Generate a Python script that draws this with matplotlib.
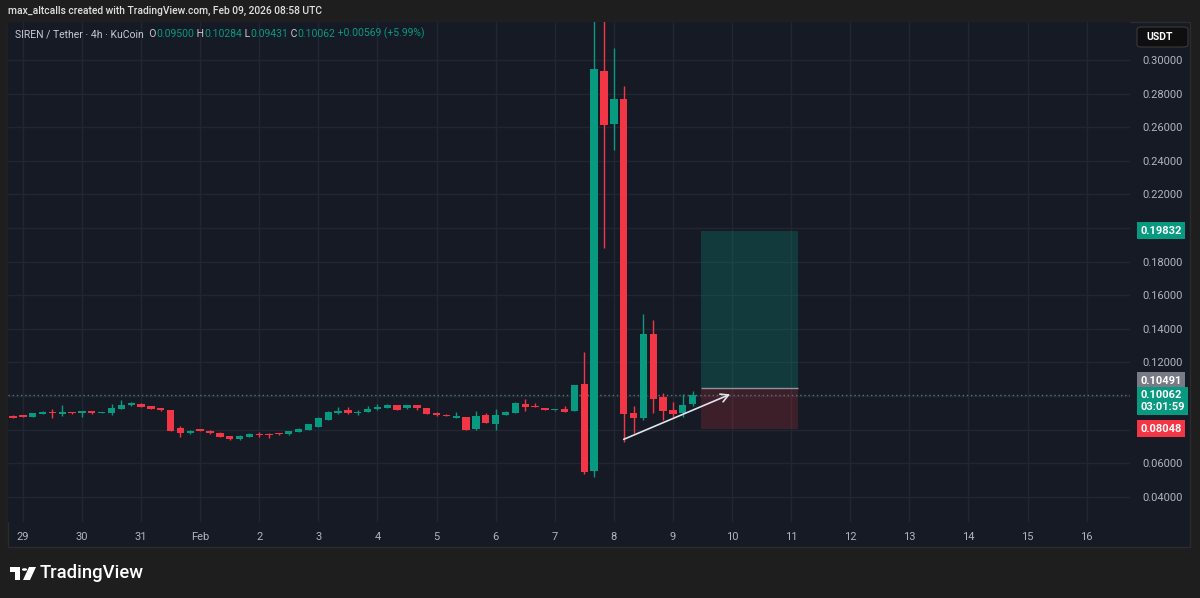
import numpy as np
import matplotlib
matplotlib.use('Agg')
import matplotlib.pyplot as plt
from matplotlib import font_manager
from matplotlib.patches import Rectangle, Polygon, Circle, FancyBboxPatch
import matplotlib.transforms as mtransforms

avail = {f.name for f in font_manager.fontManager.ttflist}
def pick(*names):
    for n in names:
        if n in avail:
            return n
    return 'DejaVu Sans'
UI = pick('Liberation Sans Narrow', 'Roboto', 'Liberation Sans')
LOGO = pick('Roboto', 'Inter', 'Lato')

# ---------------- data (SIREN/USDT 4h, Jan 28 20:00 -> Feb 9 08:00) ----------------
opens = [0.0881, 0.0886, 0.0877, 0.0893, 0.0902, 0.0893, 0.0905, 0.0897, 0.0909, 0.0898,
         0.0897, 0.0925, 0.0946, 0.0955, 0.0939, 0.0929, 0.0915, 0.0808, 0.0778, 0.0804,
         0.0794, 0.0778, 0.0762, 0.0742, 0.0758, 0.0775, 0.0776, 0.0776, 0.0772, 0.0788,
         0.0798, 0.0817, 0.0857, 0.0897, 0.0915, 0.0899, 0.0907, 0.0921, 0.0931, 0.0945,
         0.0927, 0.0945, 0.0929, 0.0897, 0.0889, 0.0872, 0.0875, 0.0802, 0.0885, 0.0832,
         0.0887, 0.0901, 0.0952, 0.0940, 0.0929, 0.0915, 0.0925, 0.0913, 0.1070, 0.0555,
         0.2935, 0.2619, 0.2770, 0.0897, 0.0867, 0.1369, 0.0993, 0.0917, 0.0901, 0.09500]
highs = [0.0884, 0.0889, 0.0901, 0.0908, 0.0923, 0.0946, 0.0907, 0.0911, 0.0911, 0.0903,
         0.0952, 0.0976, 0.0962, 0.0957, 0.0941, 0.0931, 0.0917, 0.0821, 0.0798, 0.0806,
         0.0796, 0.0788, 0.0764, 0.0766, 0.0782, 0.0786, 0.0778, 0.0778, 0.0792, 0.0808,
         0.0834, 0.0873, 0.0913, 0.0937, 0.0933, 0.0919, 0.0943, 0.0951, 0.0953, 0.0947,
         0.0947, 0.0947, 0.0931, 0.0903, 0.0891, 0.0903, 0.0877, 0.0913, 0.0897, 0.0921,
         0.0909, 0.0962, 0.0980, 0.0960, 0.0931, 0.0919, 0.0943, 0.1067, 0.1260, 0.3400,
         0.3400, 0.3070, 0.2847, 0.0943, 0.1490, 0.1450, 0.1020, 0.0966, 0.1010, 0.10284]
lows = [0.0867, 0.0875, 0.0875, 0.0891, 0.0868, 0.0883, 0.0894, 0.0877, 0.0895, 0.0896,
        0.0887, 0.0924, 0.0942, 0.0935, 0.0923, 0.0911, 0.0792, 0.0754, 0.0776, 0.0790,
        0.0776, 0.0756, 0.0740, 0.0740, 0.0756, 0.0758, 0.0752, 0.0770, 0.0770, 0.0786,
        0.0796, 0.0815, 0.0855, 0.0895, 0.0895, 0.0885, 0.0905, 0.0919, 0.0929, 0.0915,
        0.0925, 0.0917, 0.0893, 0.0883, 0.0879, 0.0870, 0.0798, 0.0800, 0.0839, 0.0798,
        0.0885, 0.0899, 0.0913, 0.0935, 0.0915, 0.0913, 0.0903, 0.0911, 0.0536, 0.0520,
        0.1879, 0.2464, 0.0725, 0.0778, 0.0860, 0.0897, 0.0857, 0.0877, 0.0873, 0.09431]
closes = [0.0870, 0.0877, 0.0899, 0.0905, 0.0898, 0.0903, 0.0896, 0.0909, 0.0897, 0.0901,
          0.0929, 0.0946, 0.0957, 0.0937, 0.0925, 0.0917, 0.0794, 0.0782, 0.0792, 0.0792,
          0.0778, 0.0758, 0.0742, 0.0764, 0.0772, 0.0770, 0.0766, 0.0772, 0.0790, 0.0806,
          0.0832, 0.0871, 0.0903, 0.0911, 0.0897, 0.0905, 0.0925, 0.0937, 0.0947, 0.0917,
          0.0945, 0.0931, 0.0895, 0.0885, 0.0881, 0.0876, 0.0800, 0.0883, 0.0841, 0.0889,
          0.0907, 0.0960, 0.0933, 0.0937, 0.0917, 0.0917, 0.0905, 0.1065, 0.0546, 0.2946,
          0.2613, 0.2770, 0.0891, 0.0871, 0.1369, 0.0982, 0.0912, 0.0893, 0.09493, 0.10062]

day_labels = ['29', '30', '31', 'Feb', '2', '3', '4', '5', '6', '7', '8', '9',
              '10', '11', '12', '13', '14', '15', '16']
price_ticks = [0.04, 0.06, 0.12, 0.14, 0.16, 0.18, 0.22, 0.24, 0.26, 0.28, 0.30]
grid_prices = [0.04, 0.06, 0.08, 0.10, 0.12, 0.14, 0.16, 0.18, 0.20, 0.22, 0.24, 0.26, 0.28, 0.30]

# long position tool
entry_price = 0.10491
target_price = 0.19832
stop_price = 0.08048
pos_start, pos_end = 69.8, 79.7
# trend arrow
arrow_start = (62.0, 0.0742)
arrow_end = (72.8, 0.1010)
countdown = '03:01:59'

# ---------------- style ----------------
GREEN = '#089981'
RED = '#f23645'
BG = '#161a25'
GRID = '#222632'
AXTXT = '#b2b5be'

W, H = 1200, 598
fig = plt.figure(figsize=(12, 5.98), dpi=100, facecolor='#1e1e1e')
def fx(px): return px / W
def fy(py): return 1 - py / H

fig.patches.append(Rectangle((fx(8), fy(547)), fx(1190) - fx(8), fy(22) - fy(547),
                             transform=fig.transFigure, facecolor=BG,
                             edgecolor='#2c2c2c', lw=1, zorder=-10))

ax = fig.add_axes([fx(8), fy(522), fx(1130) - fx(8), fy(22) - fy(522)])
ax.set_zorder(1)
ax.set_facecolor(BG)
for s in ax.spines.values():
    s.set_visible(False)
XMIN, XMAX = -0.5076, 113.40
YMIN, YMAX = 0.0250, 0.32262
ax.set_xlim(XMIN, XMAX)
ax.set_ylim(YMIN, YMAX)

day_pos = [1 + 6 * k for k in range(len(day_labels))]
ax.hlines(grid_prices, XMIN, XMAX, color=GRID, lw=1, zorder=0)
ax.vlines(day_pos, YMIN, YMAX, color=GRID, lw=1, zorder=0)

# position tool
ax.add_patch(Rectangle((pos_start, entry_price), pos_end - pos_start, target_price - entry_price,
                       facecolor=GREEN, alpha=0.25, edgecolor='none', zorder=1))
ax.add_patch(Rectangle((pos_start, stop_price), pos_end - pos_start, entry_price - stop_price,
                       facecolor=RED, alpha=0.18, edgecolor='none', zorder=1))
ax.hlines(entry_price, pos_start, pos_end, color='#8f929b', lw=1, zorder=2)

# current price dotted line
ax.axhline(closes[-1], color='#4d7775', ls=(0, (1, 2)), lw=1, zorder=2)

# candles
o = np.array(opens); hh = np.array(highs); ll = np.array(lows); c = np.array(closes)
x = np.arange(len(o))
cols = np.where(c >= o, GREEN, RED)
ax.vlines(x, ll, hh, colors=cols, lw=1, zorder=3)
bottoms = np.minimum(o, c)
heights = np.maximum(np.abs(c - o), 0.0006)
ax.bar(x, heights, bottom=bottoms, width=0.75, color=cols, lw=0, zorder=4)

# arrow
ax.annotate('', xy=arrow_end, xytext=arrow_start,
            arrowprops=dict(arrowstyle='->,head_length=0.55,head_width=0.3',
                            color='#e0e3eb', lw=1.2, shrinkA=0, shrinkB=0), zorder=6)

# axes ticks
ax.set_xticks(day_pos)
ax.set_xticklabels(day_labels)
ax.tick_params(axis='x', length=0, pad=7, labelcolor=AXTXT, labelsize=8)
ax.yaxis.tick_right()
ax.set_yticks(price_ticks)
ax.set_yticklabels([f'{p:.5f}' for p in price_ticks])
ax.tick_params(axis='y', length=0, pad=8.6, labelcolor=AXTXT, labelsize=8)
for lab in ax.get_xticklabels() + ax.get_yticklabels():
    lab.set_family(UI)

# price tags
trans = mtransforms.blended_transform_factory(ax.transAxes, ax.transData)
def tag(text, price, fc, dy=0, tc='white'):
    ax.annotate(text, xy=(1, price), xycoords=trans, xytext=(7.5, dy),
                textcoords='offset points', ha='left', va='center', color=tc,
                fontsize=8, family=UI, fontweight='bold', annotation_clip=False,
                bbox=dict(boxstyle='square,pad=0.3', fc=fc, ec='none'), zorder=10)
tag(f'{target_price:.5f}', target_price, GREEN)
tag(f'{entry_price:.5f}', entry_price, '#787b86', dy=5)
tag(f'{closes[-1]:.5f}\n{countdown}', closes[-1], GREEN, dy=-4.3)
tag(f'{stop_price:.5f}', stop_price, RED)

# USDT box
fig.patches.append(FancyBboxPatch((fx(1137), fy(47)), fx(1188) - fx(1137), fy(27) - fy(47),
                                  boxstyle='round,pad=0,rounding_size=0.004',
                                  transform=fig.transFigure, facecolor='#0f0f0f',
                                  edgecolor='#3a3a3a', lw=0.8, zorder=5))
fig.text(fx(1146), fy(37), 'USDT', color='white', fontsize=7.5, family=UI,
         fontweight='bold', va='center', ha='left', zorder=6)

# header
fig.text(fx(8), fy(11), 'max_altcalls created with TradingView.com, Feb 09, 2026 08:58 UTC',
         color='#e0e0e0', fontsize=7.4, family=UI, fontweight='medium', va='center', ha='left')

# legend line
LIGHT = '#c8cad1'
chg = closes[-1] - closes[-2]
pct = chg / closes[-2] * 100
pieces = [('SIREN / Tether · 4h · KuCoin', LIGHT), ('  O', LIGHT), (f'{opens[-1]:.5f}', GREEN),
          (' H', LIGHT), (f'{highs[-1]:.5f}', GREEN), (' L', LIGHT), (f'{lows[-1]:.5f}', GREEN),
          (' C', LIGHT), (f'{closes[-1]:.5f}', GREEN), (f' +{chg:.5f} (+{pct:.2f}%)', GREEN)]
prev = ax.text(fx(15), fy(34), pieces[0][0], color=pieces[0][1], fontsize=7.5,
               family=UI, va='center', ha='left', transform=fig.transFigure, zorder=10)
for s, col in pieces[1:]:
    prev = ax.annotate(s, xy=(1, 0), xycoords=prev, xytext=(0, 0), textcoords='offset points',
                       color=col, fontsize=7.5, family=UI, ha='left', va='bottom',
                       annotation_clip=False, zorder=10)

# TradingView logo
fig.patches.append(Polygon([(fx(10), fy(567)), (fx(20), fy(567)), (fx(20), fy(580)),
                            (fx(15), fy(580)), (fx(15), fy(572)), (fx(10), fy(572))],
                           closed=True, transform=fig.transFigure, facecolor='white', edgecolor='none'))
fig.patches.append(Circle((fx(24.5), fy(569.5)), 2.6 / W, transform=fig.transFigure,
                          facecolor='white', edgecolor='none'))
fig.patches.append(Polygon([(fx(29), fy(567)), (fx(36), fy(567)), (fx(30), fy(580)), (fx(23), fy(580))],
                           closed=True, transform=fig.transFigure, facecolor='white', edgecolor='none'))
fig.text(fx(40), fy(573), 'TradingView', color='white', fontsize=13.3, family=LOGO,
         fontweight='medium', va='center', ha='left')

fig.savefig('out.png', dpi=100, facecolor=fig.get_facecolor())
